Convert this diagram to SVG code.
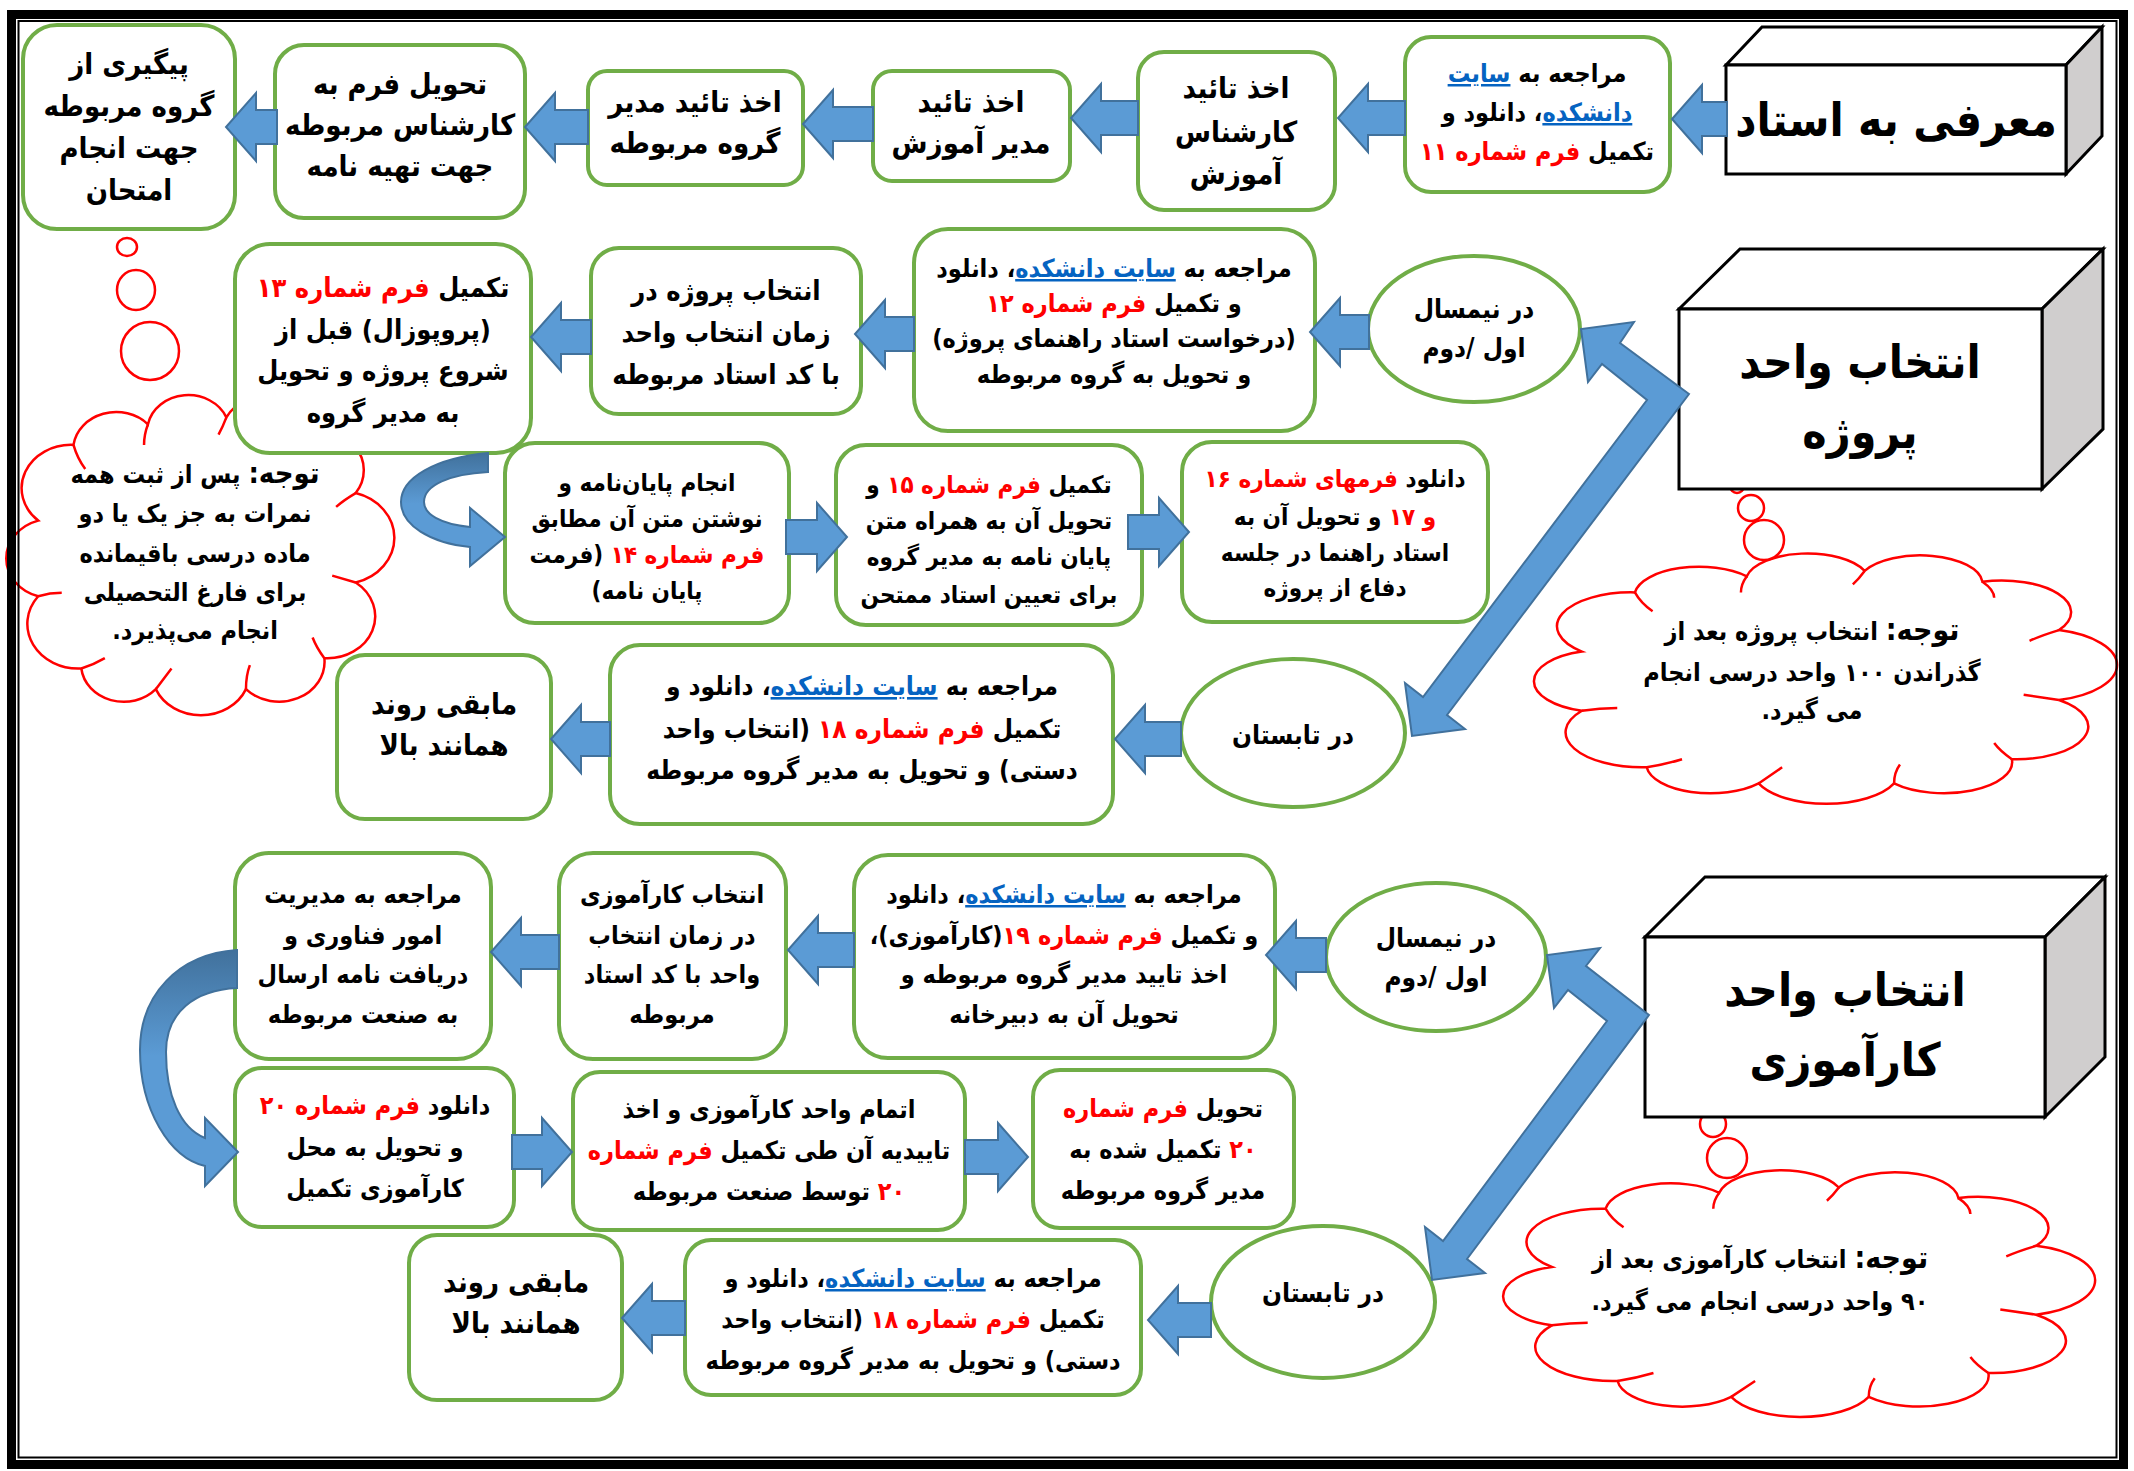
<svg xmlns="http://www.w3.org/2000/svg" xmlns:xlink="http://www.w3.org/1999/xlink" width="2134" height="1471" viewBox="0 0 2134 1471">
<style>
.box{fill:#fff;stroke:#70ad47;stroke-width:4}
.ell{fill:#fff;stroke:#70ad47;stroke-width:4}
.arr{fill:#5b9bd5;stroke:#41719c;stroke-width:2;stroke-linejoin:miter}
.curv{fill:url(#cg);stroke:#41719c;stroke-width:2}
.cube{stroke:#000;stroke-width:3;stroke-linejoin:miter}
.front{fill:#fff}
.side{fill:#d0cece}
.bub{fill:#fff;stroke:#ff0000;stroke-width:2.5}
.cl{fill:#fff;stroke:#ff0000;stroke-width:2.5;vector-effect:non-scaling-stroke}
.crease{fill:none;stroke:#ff0000;stroke-width:2.5;vector-effect:non-scaling-stroke}
text{font-family:"DejaVu Sans Condensed","DejaVu Sans",sans-serif;font-weight:bold;text-anchor:middle;direction:rtl;fill:#000}
.r{fill:#ff0000}
.b{fill:#0563c1;text-decoration:underline}
.title{font-size:46px}
</style>
<defs>
<linearGradient id="cg" x1="0" y1="0" x2="0" y2="1">
<stop offset="0" stop-color="#41719c"/>
<stop offset="0.45" stop-color="#5b9bd5"/>
<stop offset="1" stop-color="#5b9bd5"/>
</linearGradient>
<g id="cloud">
<path class="cl" d="M10,40 A12.6,12.6 0 0 1 19,18 A11,11 0 0 1 38,12 A10.5,10.5 0 0 1 58,10 A10.6,10.6 0 0 1 78,14 A11.8,11.8 0 0 1 91,32 A13.5,13.5 0 0 1 91,58 A12.2,12.2 0 0 1 83,80 A11.6,11.6 0 0 1 63,89 A12.5,12.5 0 0 1 40,89 A10.9,10.9 0 0 1 21,83 A13,13 0 0 1 10,62 A11.5,11.5 0 0 1 10,40 Z"/>
<path class="crease" d="M19,18 Q20,22 22,25 M38,12 Q37,15 37,18 M58,10 Q57,13 56,15 M78,14 Q80,17 80,20 M91,32 Q88,34 86,36 M91,58 Q88,57 85,56 M83,80 Q81,77 80,74 M63,89 Q63,85 64,82 M40,89 Q42,86 44,83 M21,83 Q24,82 27,80 M10,62 Q13,61 16,61"/>
</g>
</defs>
<rect width="2134" height="1471" fill="#fff"/>

<!-- clouds and thought bubbles -->
<g id="note-left">
<use xlink:href="#cloud" transform="translate(-1,383) scale(3.92,3.44)"/>
<ellipse class="bub" cx="127" cy="247" rx="10" ry="9"/>
<ellipse class="bub" cx="136" cy="290" rx="19" ry="20"/>
<ellipse class="bub" cx="150" cy="351" rx="29" ry="29"/>
<text font-size="25"><tspan x="195" y="483"><tspan font-size="29">توجه:</tspan> پس از ثبت همه</tspan><tspan x="195" y="522">نمرات به جز یک یا دو</tspan><tspan x="195" y="562">ماده درسی باقیمانده</tspan><tspan x="195" y="601">برای فارغ التحصیلی</tspan><tspan x="195" y="639">انجام می‌پذیرد.</tspan></text>
</g>
<g id="note-project">
<use xlink:href="#cloud" transform="translate(1523,544) scale(5.89,2.69)"/>
<circle class="bub" cx="1737" cy="486" r="7"/>
<circle class="bub" cx="1751" cy="508" r="13"/>
<circle class="bub" cx="1764" cy="540" r="20"/>
<text font-size="25"><tspan x="1812" y="640"><tspan font-size="30">توجه:</tspan> انتخاب پروژه بعد از</tspan><tspan x="1812" y="681">گذراندن ۱۰۰ واحد درسی انجام</tspan><tspan x="1812" y="719">می گیرد.</tspan></text>
</g>
<g id="note-internship">
<use xlink:href="#cloud" transform="translate(1492,1161) scale(5.98,2.65)"/>
<circle class="bub" cx="1702" cy="1102" r="7"/>
<circle class="bub" cx="1713" cy="1124" r="13"/>
<circle class="bub" cx="1727" cy="1158" r="20"/>
<text font-size="25"><tspan x="1760" y="1268"><tspan font-size="30">توجه:</tspan> انتخاب کارآموزی بعد از</tspan><tspan x="1760" y="1310">۹۰ واحد درسی انجام می گیرد.</tspan></text>
</g>

<!-- section 1 -->
<g id="n-moarefi">
<polygon class="cube front" points="1726,65 1762,27 2102,27 2066,65"/>
<polygon class="cube side" points="2066,65 2102,27 2102,136 2066,174"/>
<rect class="cube front" x="1726" y="65" width="340" height="109"/>
<text class="title" x="1896" y="136">معرفی به استاد</text>
</g>
<g id="n-form11">
<rect class="box" x="1405" y="37" width="265" height="155" rx="26"/>
<text font-size="25"><tspan x="1537" y="82">مراجعه به <tspan class="b">سایت</tspan></tspan><tspan x="1537" y="121"><tspan class="b">دانشکده</tspan>، دانلود و</tspan><tspan x="1537" y="160">تکمیل <tspan class="r">فرم شماره ۱۱</tspan></tspan></text>
</g>
<g id="n-karshenas">
<rect class="box" x="1138" y="52" width="197" height="158" rx="26"/>
<text font-size="29"><tspan x="1236" y="98">اخذ تائید</tspan><tspan x="1236" y="142">کارشناس</tspan><tspan x="1236" y="184">آموزش</tspan></text>
</g>
<g id="n-modiramoozesh">
<rect class="box" x="873" y="71" width="197" height="110" rx="19"/>
<text font-size="29"><tspan x="971" y="112">اخذ تائید</tspan><tspan x="971" y="153">مدیر آموزش</tspan></text>
</g>
<g id="n-modirgorooh">
<rect class="box" x="588" y="71" width="215" height="114" rx="19"/>
<text font-size="29"><tspan x="695" y="112">اخذ تائید مدیر</tspan><tspan x="695" y="153">گروه مربوطه</tspan></text>
</g>
<g id="n-tahvilform">
<rect class="box" x="275" y="45" width="250" height="173" rx="29"/>
<text font-size="29"><tspan x="400" y="94">تحویل فرم به</tspan><tspan x="400" y="135">کارشناس مربوطه</tspan><tspan x="400" y="176">جهت تهیه نامه</tspan></text>
</g>
<g id="n-peygiri">
<rect class="box" x="23" y="25" width="212" height="204" rx="34"/>
<text font-size="29"><tspan x="129" y="74">پیگیری از</tspan><tspan x="129" y="116">گروه مربوطه</tspan><tspan x="129" y="158">جهت انجام</tspan><tspan x="129" y="200">امتحان</tspan></text>
</g>

<!-- section 2 -->
<g id="n-project">
<polygon class="cube front" points="1679,309 1740,249 2103,249 2042,309"/>
<polygon class="cube side" points="2042,309 2103,249 2103,429 2042,489"/>
<rect class="cube front" x="1679" y="309" width="363" height="180"/>
<text class="title"><tspan x="1860" y="378">انتخاب واحد</tspan><tspan x="1860" y="448">پروژه</tspan></text>
</g>
<g id="n-nimsal1">
<ellipse class="ell" cx="1474" cy="329" rx="106" ry="73"/>
<text font-size="26"><tspan x="1474" y="318">در نیمسال</tspan><tspan x="1474" y="357">اول /دوم</tspan></text>
</g>
<g id="n-form12">
<rect class="box" x="914" y="229" width="401" height="202" rx="34"/>
<text font-size="25"><tspan x="1114" y="277">مراجعه به <tspan class="b">سایت دانشکده</tspan>، دانلود</tspan><tspan x="1114" y="312">و تکمیل <tspan class="r">فرم شماره ۱۲</tspan></tspan><tspan x="1114" y="347">(درخواست استاد راهنمای پروژه)</tspan><tspan x="1114" y="383">و تحویل به گروه مربوطه</tspan></text>
</g>
<g id="n-entekhabproject">
<rect class="box" x="591" y="248" width="270" height="166" rx="28"/>
<text font-size="27"><tspan x="726" y="300">انتخاب پروژه در</tspan><tspan x="726" y="342">زمان انتخاب واحد</tspan><tspan x="726" y="384">با کد استاد مربوطه</tspan></text>
</g>
<g id="n-form13">
<rect class="box" x="235" y="244" width="296" height="209" rx="35"/>
<text font-size="27"><tspan x="383" y="297">تکمیل <tspan class="r">فرم شماره ۱۳</tspan></tspan><tspan x="383" y="339">(پروپوزال) قبل از</tspan><tspan x="383" y="380">شروع پروژه و تحویل</tspan><tspan x="383" y="422">به مدیر گروه</tspan></text>
</g>
<g id="n-form14">
<rect class="box" x="505" y="443" width="284" height="180" rx="30"/>
<text font-size="24"><tspan x="647" y="491">انجام پایان‌نامه و</tspan><tspan x="647" y="527">نوشتن متن آن مطابق</tspan><tspan x="647" y="563"><tspan class="r">فرم شماره ۱۴</tspan> (فرمت</tspan><tspan x="647" y="599">پایان نامه)</tspan></text>
</g>
<g id="n-form15">
<rect class="box" x="836" y="445" width="306" height="180" rx="30"/>
<text font-size="24"><tspan x="989" y="493">تکمیل <tspan class="r">فرم شماره ۱۵</tspan> و</tspan><tspan x="989" y="529">تحویل آن به همراه متن</tspan><tspan x="989" y="565">پایان نامه به مدیر گروه</tspan><tspan x="989" y="603">برای تعیین استاد ممتحن</tspan></text>
</g>
<g id="n-form16">
<rect class="box" x="1182" y="442" width="306" height="180" rx="30"/>
<text font-size="24"><tspan x="1335" y="487">دانلود <tspan class="r">فرمهای شماره ۱۶</tspan></tspan><tspan x="1335" y="525"><tspan class="r">و ۱۷</tspan> و تحویل آن به</tspan><tspan x="1335" y="561">استاد راهنما در جلسه</tspan><tspan x="1335" y="596">دفاع از پروژه</tspan></text>
</g>
<g id="n-tabestan1">
<ellipse class="ell" cx="1293" cy="733" rx="112" ry="74"/>
<text font-size="26" x="1293" y="744">در تابستان</text>
</g>
<g id="n-form18a">
<rect class="box" x="610" y="645" width="503" height="179" rx="30"/>
<text font-size="26"><tspan x="862" y="695">مراجعه به <tspan class="b">سایت دانشکده</tspan>، دانلود و</tspan><tspan x="862" y="738">تکمیل <tspan class="r">فرم شماره ۱۸</tspan>  (انتخاب واحد</tspan><tspan x="862" y="779">دستی) و تحویل به  مدیر گروه مربوطه</tspan></text>
</g>
<g id="n-mabaghi1">
<rect class="box" x="337" y="655" width="214" height="164" rx="28"/>
<text font-size="29"><tspan x="444" y="714">مابقی روند</tspan><tspan x="444" y="755">همانند بالا</tspan></text>
</g>

<!-- section 3 -->
<g id="n-karamoozi">
<polygon class="cube front" points="1645,937 1705,877 2105,877 2045,937"/>
<polygon class="cube side" points="2045,937 2105,877 2105,1057 2045,1117"/>
<rect class="cube front" x="1645" y="937" width="400" height="180"/>
<text class="title"><tspan x="1845" y="1006">انتخاب واحد</tspan><tspan x="1845" y="1076">کارآموزی</tspan></text>
</g>
<g id="n-nimsal2">
<ellipse class="ell" cx="1436" cy="957" rx="110" ry="74"/>
<text font-size="26"><tspan x="1436" y="947">در نیمسال</tspan><tspan x="1436" y="986">اول /دوم</tspan></text>
</g>
<g id="n-form19">
<rect class="box" x="854" y="855" width="421" height="203" rx="34"/>
<text font-size="25"><tspan x="1064" y="903">مراجعه به <tspan class="b">سایت دانشکده</tspan>، دانلود</tspan><tspan x="1064" y="944">و تکمیل <tspan class="r">فرم شماره ۱۹</tspan>(کارآموزی)،</tspan><tspan x="1064" y="983">اخذ تایید مدیر گروه مربوطه و</tspan><tspan x="1064" y="1023">تحویل آن به دبیرخانه</tspan></text>
</g>
<g id="n-entekhabkar">
<rect class="box" x="559" y="853" width="227" height="206" rx="34"/>
<text font-size="25"><tspan x="672" y="903">انتخاب کارآموزی</tspan><tspan x="672" y="944">در زمان انتخاب</tspan><tspan x="672" y="983">واحد با کد استاد</tspan><tspan x="672" y="1023">مربوطه</tspan></text>
</g>
<g id="n-modiriat">
<rect class="box" x="235" y="853" width="256" height="206" rx="34"/>
<text font-size="25"><tspan x="363" y="903">مراجعه به مدیریت</tspan><tspan x="363" y="944">امور فناوری و</tspan><tspan x="363" y="983">دریافت نامه ارسال</tspan><tspan x="363" y="1023">به صنعت مربوطه</tspan></text>
</g>
<g id="n-form20">
<rect class="box" x="235" y="1068" width="279" height="159" rx="27"/>
<text font-size="25"><tspan x="375" y="1114">دانلود <tspan class="r">فرم شماره ۲۰</tspan></tspan><tspan x="375" y="1156">و تحویل به محل</tspan><tspan x="375" y="1197">کارآموزی تکمیل</tspan></text>
</g>
<g id="n-etmam">
<rect class="box" x="573" y="1072" width="392" height="158" rx="27"/>
<text font-size="25"><tspan x="769" y="1118">اتمام واحد کارآموزی و اخذ</tspan><tspan x="769" y="1159">تاییدیه آن طی تکمیل <tspan class="r">فرم شماره</tspan></tspan><tspan x="769" y="1200"><tspan class="r">۲۰</tspan> توسط صنعت مربوطه</tspan></text>
</g>
<g id="n-tahvil20">
<rect class="box" x="1033" y="1070" width="261" height="158" rx="27"/>
<text font-size="25"><tspan x="1163" y="1117">تحویل <tspan class="r">فرم شماره</tspan></tspan><tspan x="1163" y="1158"><tspan class="r">۲۰</tspan> تکمیل شده به</tspan><tspan x="1163" y="1199">مدیر گروه مربوطه</tspan></text>
</g>
<g id="n-tabestan2">
<ellipse class="ell" cx="1323" cy="1302" rx="112" ry="76"/>
<text font-size="26" x="1323" y="1302">در تابستان</text>
</g>
<g id="n-form18b">
<rect class="box" x="685" y="1240" width="456" height="155" rx="26"/>
<text font-size="25"><tspan x="913" y="1287">مراجعه به <tspan class="b">سایت دانشکده</tspan>، دانلود و</tspan><tspan x="913" y="1328">تکمیل <tspan class="r">فرم شماره ۱۸</tspan>  (انتخاب واحد</tspan><tspan x="913" y="1369">دستی) و تحویل به مدیر گروه مربوطه</tspan></text>
</g>
<g id="n-mabaghi2">
<rect class="box" x="409" y="1235" width="213" height="165" rx="28"/>
<text font-size="29"><tspan x="516" y="1292">مابقی روند</tspan><tspan x="516" y="1333">همانند بالا</tspan></text>
</g>

<!-- connectors -->
<g id="connectors">
<polygon class="arr" points="1727,102 1702,102 1702,85 1672,119 1702,153 1702,136 1727,136"/>
<polygon class="arr" points="1405,101 1368,101 1368,84 1338,118 1368,152 1368,135 1405,135"/>
<polygon class="arr" points="1138,101 1101,101 1101,84 1071,118 1101,152 1101,135 1138,135"/>
<polygon class="arr" points="873,107 833,107 833,90 803,124 833,158 833,141 873,141"/>
<polygon class="arr" points="588,110 555,110 555,93 525,127 555,161 555,144 588,144"/>
<polygon class="arr" points="277,110 256,110 256,93 226,127 256,161 256,144 277,144"/>

<polygon class="arr" points="1369,315 1340,315 1340,298 1310,332 1340,366 1340,349 1369,349"/>
<polygon class="arr" points="914,317 885,317 885,300 855,334 885,368 885,351 914,351"/>
<polygon class="arr" points="591,320 561,320 561,303 531,337 561,371 561,354 591,354"/>
<polygon class="arr" points="786,520 817,520 817,503 847,537 817,571 817,554 786,554"/>
<polygon class="arr" points="1128,515 1159,515 1159,498 1189,532 1159,566 1159,549 1128,549"/>
<polygon class="arr" points="1181,722 1145,722 1145,705 1115,739 1145,773 1145,756 1181,756"/>
<polygon class="arr" points="610,722 581,722 581,705 551,739 581,773 581,756 610,756"/>
<polygon class="arr" points="1689,394 1620,343 1634,322 1581,329 1588,382 1602,364 1647,400 1423,697 1405,683 1412,736 1465,729 1447,715"/>
<path class="curv" d="M488,453 C435,458 401,478 401,502 C401,525 430,543 470,547 L470,566 L505,537 L470,508 L470,527 C440,524 424,514 424,502 C424,485 450,474 488,472 Z"/>

<polygon class="arr" points="1326,938 1296,938 1296,921 1266,955 1296,989 1296,972 1326,972"/>
<polygon class="arr" points="854,933 818,933 818,916 788,950 818,984 818,967 854,967"/>
<polygon class="arr" points="559,935 521,935 521,918 491,952 521,986 521,969 559,969"/>
<polygon class="arr" points="512,1135 542,1135 542,1118 572,1152 542,1186 542,1169 512,1169"/>
<polygon class="arr" points="965,1140 998,1140 998,1123 1028,1157 998,1191 998,1174 965,1174"/>
<polygon class="arr" points="1211,1303 1178,1303 1178,1286 1148,1320 1178,1354 1178,1337 1211,1337"/>
<polygon class="arr" points="685,1301 652,1301 652,1284 622,1318 652,1352 652,1335 685,1335"/>
<polygon class="arr" points="1649,1015 1586,966 1600,948 1547,955 1554,1008 1568,990 1607,1021 1443,1241 1425,1227 1432,1280 1485,1273 1467,1259"/>
<path class="curv" d="M237,950 C178,954 140,995 140,1050 C140,1110 170,1158 205,1166 L205,1186 L238,1152 L205,1118 L205,1138 C180,1128 166,1095 166,1052 C166,1012 195,990 237,988 Z"/>
</g>

<!-- frame -->
<rect x="11.5" y="14.5" width="2112" height="1450" fill="none" stroke="#000" stroke-width="9"/>
<rect x="18.5" y="21" width="2098" height="1436.5" fill="none" stroke="#000" stroke-width="2"/>
</svg>
